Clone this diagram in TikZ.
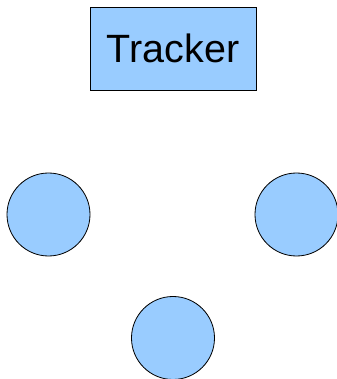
\documentclass[tikz,border=0pt]{standalone}
\usepackage{fontspec}
\setmainfont{Liberation Sans}
\definecolor{peerblue}{HTML}{99CCFF}
\tikzset{
  trackerbox/.style={draw,fill=peerblue,line width=0.7pt,minimum width=4.98cm,minimum height=2.49cm,inner sep=0pt,font=\fontsize{33.7}{40}\selectfont},
  peer/.style={circle,draw,fill=peerblue,line width=0.7pt,minimum size=2.49cm,inner sep=0pt}
}
\begin{document}
\begin{tikzpicture}[x=0.03cm,y=0.03cm]
      \useasboundingbox (0,0) rectangle (337,379);
      \node[trackerbox] (tracker) at (173,330.5) {Tracker};

      \node[peer] (peer1) at (48.5,164.5) {};
      \node[peer] (peer2) at (296.5,164.5) {};
      \node[peer] (peer3) at (173,41) {};
    \end{tikzpicture}
\end{document}
